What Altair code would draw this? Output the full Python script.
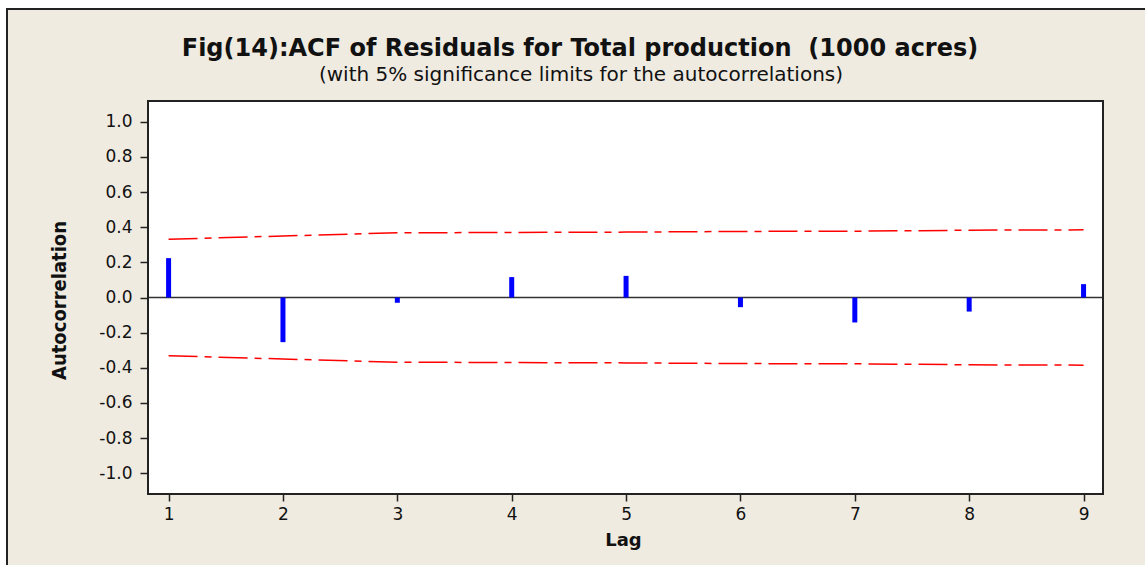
import altair as alt
import pandas as pd

# ---- data ----
lags = [1, 2, 3, 4, 5, 6, 7, 8, 9]
acf = [0.224, -0.254, -0.03, 0.116, 0.123, -0.055, -0.142, -0.080, 0.076]
upper_limit = [0.331, 0.350, 0.368, 0.370, 0.372, 0.376, 0.377, 0.383, 0.385]
lower_limit = [-0.331, -0.350, -0.368, -0.370, -0.372, -0.376, -0.377, -0.383, -0.385]
y_ticks = [-1.0, -0.8, -0.6, -0.4, -0.2, 0.0, 0.2, 0.4, 0.6, 0.8, 1.0]
x_ticks = [1, 2, 3, 4, 5, 6, 7, 8, 9]
title_text = "Fig(14):ACF of Residuals for Total production\u00a0 (1000 acres)"
subtitle_text = "(with 5% significance limits for the autocorrelations)"

bars = pd.DataFrame({"lag": lags, "acf": acf, "zero": [0.0] * len(lags)})
limits = pd.concat([
    pd.DataFrame({"lag": lags, "limit": upper_limit, "side": "upper"}),
    pd.DataFrame({"lag": lags, "limit": lower_limit, "side": "lower"}),
])
one = pd.DataFrame({"a": [0]})
titles = pd.DataFrame({"t": [title_text]})
subtitles = pd.DataFrame({"t": [subtitle_text]})

W, H = 955, 393
BEIGE = "#EFEBE1"

xscale = alt.Scale(domain=[0.82, 9.17], nice=False, zero=False)
yscale = alt.Scale(domain=[-1.118, 1.118], nice=False, zero=False)

x_axis = alt.Axis(
    values=x_ticks, title="Lag", grid=False, domain=False, zindex=2,
    tickSize=7, tickColor="#222", tickWidth=1.5,
    labelFont="DejaVu Sans", labelFontSize=17, labelColor="#111",
    labelPadding=5, labelBaseline="top",
    titleFont="DejaVu Sans", titleFontSize=18, titleFontWeight="bold",
    titleColor="#111", titleX=475, titleY=51, titleBaseline="alphabetic",
)
y_axis = alt.Axis(
    values=y_ticks, title="Autocorrelation", grid=False, domain=False, zindex=2,
    tickSize=8, tickColor="#222", tickWidth=1.5,
    labelFont="DejaVu Sans", labelFontSize=17, labelColor="#111",
    labelPadding=8,
    labelExpr="replace(format(datum.value, '.1f'), '\u2212', '-')",
    titleFont="'DejaVu Sans Condensed', 'Liberation Sans Narrow', Roboto, sans-serif",
    titleFontSize=20, titleFontWeight="bold",
    titleColor="#111", titleX=-83, titleY=199, titleAngle=270,
    titleBaseline="alphabetic", titleAlign="center",
)

# page backdrop: beige panel with black top/left edge, white plot area
panel = alt.Chart(one).mark_rect(color=BEIGE).encode(
    x=alt.value(-141), x2=alt.value(997), y=alt.value(-92), y2=alt.value(464)
)
edge_top = alt.Chart(one).mark_rule(color="#222", strokeWidth=2).encode(
    x=alt.value(-142), x2=alt.value(997), y=alt.value(-92)
)
edge_left = alt.Chart(one).mark_rule(color="#222", strokeWidth=2).encode(
    x=alt.value(-141), y=alt.value(-92), y2=alt.value(464)
)
plot_bg = alt.Chart(one).mark_rect(color="white").encode(
    x=alt.value(0), x2=alt.value(W), y=alt.value(0), y2=alt.value(H)
)
frame = alt.Chart(one).mark_rect(filled=False, stroke="#222", strokeWidth=2).encode(
    x=alt.value(0), x2=alt.value(W), y=alt.value(0), y2=alt.value(H)
)

title_mark = alt.Chart(titles).mark_text(
    font="DejaVu Sans", fontSize=24, fontWeight="bold", color="#111",
    align="center", baseline="alphabetic",
).encode(x=alt.value(432), y=alt.value(-45), text="t:N")
subtitle_mark = alt.Chart(subtitles).mark_text(
    font="DejaVu Sans", fontSize=20, color="#111",
    align="center", baseline="alphabetic",
).encode(x=alt.value(433), y=alt.value(-20), text="t:N")

zero_line = alt.Chart(one).mark_rule(color="#333", strokeWidth=1.5).encode(
    x=alt.value(0), x2=alt.value(W), y=alt.Y("datum0:Q", scale=yscale, axis=y_axis)
).transform_calculate(datum0="0")

limit_lines = alt.Chart(limits).mark_line(
    color="#FF0000", strokeWidth=1.5, strokeDash=[29, 7, 7, 7]
).encode(
    x=alt.X("lag:Q", scale=xscale, axis=x_axis),
    y=alt.Y("limit:Q", scale=yscale, axis=y_axis),
    detail="side:N",
)

acf_bars = alt.Chart(bars).mark_rule(color="#0000FF", strokeWidth=5).encode(
    x=alt.X("lag:Q", scale=xscale, axis=x_axis),
    y=alt.Y("zero:Q", scale=yscale, axis=y_axis),
    y2="acf:Q",
)

chart = alt.layer(
    panel, edge_top, edge_left, plot_bg, title_mark, subtitle_mark,
    zero_line, limit_lines, acf_bars, frame
).properties(
    width=W, height=H,
    autosize=alt.AutoSizeParams(type="none"),
    padding={"left": 148, "top": 101, "right": 42, "bottom": 71},
    background="white",
).configure_view(stroke=None)

chart.save("out.html", embed_options={"renderer": "svg", "actions": False})
